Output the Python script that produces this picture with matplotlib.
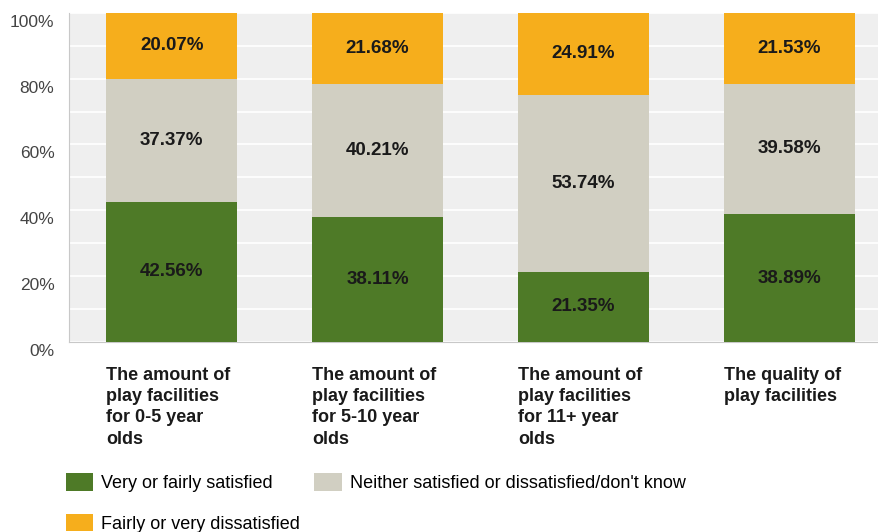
import matplotlib.pyplot as plt
from matplotlib.patches import Patch
from matplotlib.transforms import blended_transform_factory, ScaledTranslation
from matplotlib.ticker import FuncFormatter

plt.rcParams['font.family'] = ['Liberation Sans', 'DejaVu Sans']

# Survey results (percent of respondents)
categories = [
    'The amount of\nplay facilities\nfor 0-5 year\nolds',
    'The amount of\nplay facilities\nfor 5-10 year\nolds',
    'The amount of\nplay facilities\nfor 11+ year\nolds',
    'The quality of\nplay facilities',
]
satisfied = [42.56, 38.11, 21.35, 38.89]
neither = [37.37, 40.21, 53.74, 39.58]
dissatisfied = [20.07, 21.68, 24.91, 21.53]

series_names = ['Very or fairly satisfied',
                'Neither satisfied or dissatisfied/don\'t know',
                'Fairly or very dissatisfied']
colors = ['#4e7a27', '#d1cfc2', '#f6ae1c']

fig = plt.figure(figsize=(8.79, 5.32), dpi=100)
ax = fig.add_axes([0.0785, 0.357, 0.9215, 0.619])
ax.set_facecolor('#efefef')

x = list(range(len(categories)))
width = 0.636
bottoms = [0.0] * len(categories)
for vals, color in zip([satisfied, neither, dissatisfied], colors):
    bars = ax.bar(x, vals, width, bottom=bottoms, color=color, zorder=3)
    for b, v, base in zip(bars, vals, bottoms):
        ax.text(b.get_x() + b.get_width() / 2, base + v / 2, f'{v:.2f}%',
                ha='center', va='center', fontsize=13.5, fontweight='bold',
                color='#1a1a1a', zorder=4)
    bottoms = [a + b for a, b in zip(bottoms, vals)]

ax.set_ylim(0, 100)
ax.set_xlim(-0.5, 3.437)
ax.set_yticks(range(0, 101, 20))
ax.set_yticks(range(0, 101, 10), minor=True)
ax.yaxis.set_major_formatter(FuncFormatter(lambda v, _: f'{v:.0f}%'))
ax.grid(axis='y', which='both', color='white', linewidth=1.2, zorder=1)
ax.set_xticks([])
ax.tick_params(axis='y', which='both', length=0, pad=10.5, labelsize=12.5,
               labelcolor='#444444')
# tick labels sit a little below their gridlines
shift = ScaledTranslation(0, -8 / 100, fig.dpi_scale_trans)
for lbl in ax.get_yticklabels():
    lbl.set_transform(lbl.get_transform() + shift)
for side in ['top', 'right']:
    ax.spines[side].set_visible(False)
ax.spines['left'].set_color('#c8c8c8')
ax.spines['bottom'].set_color('#c8c8c8')

# category labels, left-aligned under each bar
trans = blended_transform_factory(ax.transData, ax.transAxes)
for i, label in enumerate(categories):
    ax.text(i - width / 2, -0.075, label, transform=trans, ha='left', va='top',
            fontsize=13, fontweight='bold', color='#1a1a1a', linespacing=1.33)

handles = [Patch(facecolor=c, edgecolor='none') for c in colors]
order = [0, 2, 1]
fig.legend([handles[i] for i in order], [series_names[i] for i in order],
           loc='upper left', bbox_to_anchor=(0.075, 0.11), ncol=2,
           frameon=False, handlelength=1.5, handleheight=1.1,
           handletextpad=0.45, columnspacing=0.8, labelspacing=1.2,
           borderaxespad=0, borderpad=0, prop={'size': 13})

fig.savefig('out.png', dpi=100)
